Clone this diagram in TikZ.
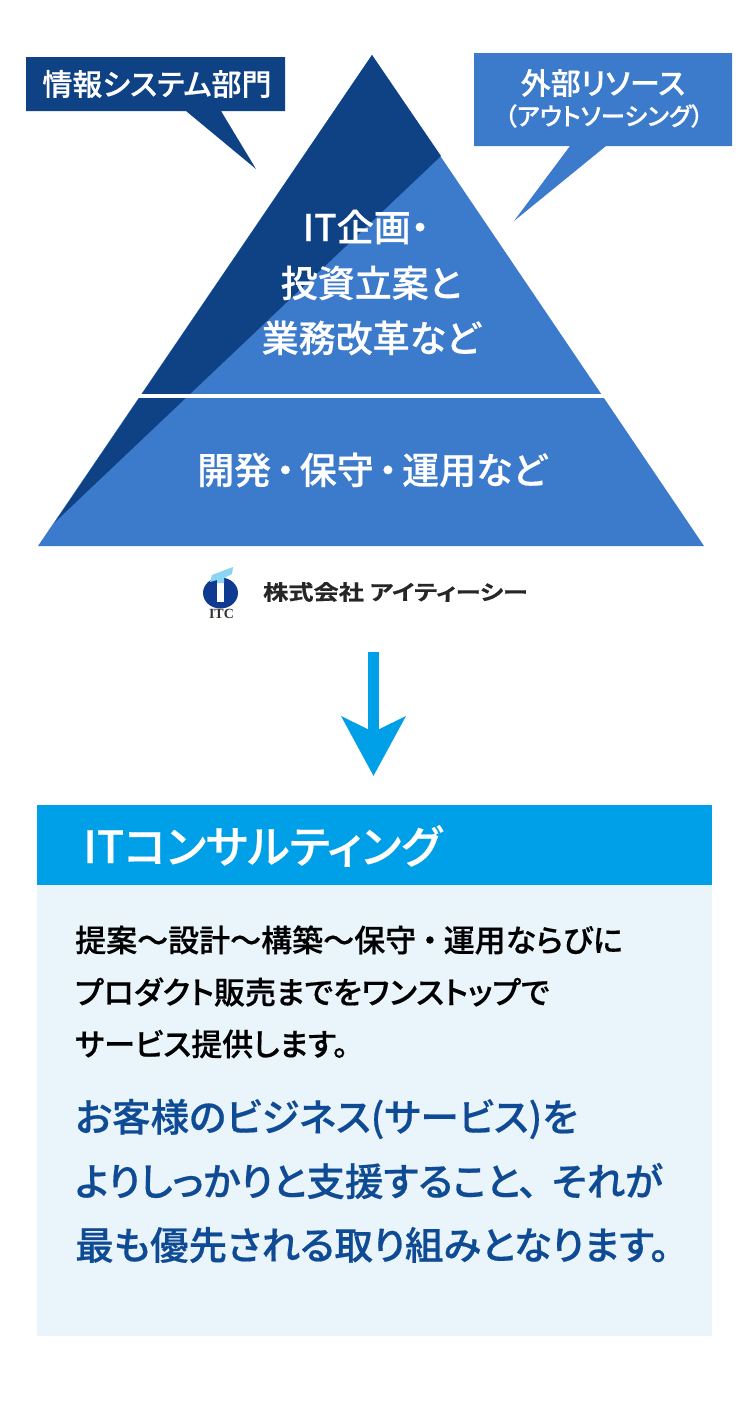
\documentclass[tikz,border=0pt]{standalone}
\usepackage{fontspec}
\usepackage{xcolor}
\usetikzlibrary{arrows.meta,positioning}
\setmainfont{Noto Sans CJK JP Medium}[RawFeature=+palt, FakeBold=0.5, BoldFont={Noto Sans CJK JP Bold}]
\newfontfamily\logoserif{Liberation Serif}
\definecolor{darkblue}{HTML}{0F4284}
\definecolor{leadblue}{HTML}{0F4A94}
\definecolor{midblue}{HTML}{3C7ACB}
\definecolor{skyblue}{HTML}{00A0E9}
\definecolor{paleblue}{HTML}{E9F4FB}
\newcommand{\fs}[1]{\fontsize{#1}{#1}\selectfont}
\newcommand{\dotgap}[1]{\hspace{#1}・\hspace{#1}}

\begin{document}
\begin{tikzpicture}[x=1pt, y=-1pt,
    every node/.style={inner sep=0pt},
    pyramidtext/.style={text=white, align=center, font=\fs{37}},
    calltext/.style={text=white, align=center},
    bodytext/.style={right, font=\fs{31}},
    leadtext/.style={right, text=leadblue, font=\fs{38.5}}]
    \useasboundingbox (0, 0) rectangle (750, 1408);

    % Pyramid
    \fill[midblue] (372, 55) -- (704, 546) -- (38, 546) -- cycle;
    \fill[darkblue] (372, 55) -- (441, 156) -- (55, 522) -- cycle;
    \fill[white] (130, 394) rectangle (620, 398);
    \node[pyramidtext] (upper1) at (366, 227) {IT企画・};
    \node[pyramidtext] (upper2) at (371, 283) {投資立案と};
    \node[pyramidtext] (upper3) at (371, 338) {業務改革など};
    \node[pyramidtext] (lower) at (372, 470) {開発\dotgap{5pt}保守\dotgap{5pt}運用など};

    % Callouts
    \fill[darkblue] (26, 57) -- (285, 57) -- (285, 111) -- (221, 111) -- (256, 169)
        -- (186, 111) -- (26, 111) -- cycle;
    \node[calltext, font=\fs{30}] (inhouse) at (157, 84) {情報システム部門};
    \fill[midblue] (474, 53) -- (732, 53) -- (732, 146) -- (606, 146) -- (514, 221)
        -- (570, 146) -- (474, 146) -- cycle;
    \node[calltext, font=\fs{30}] (outside) at (603, 83) {外部リソース};
    \node[calltext, font=\fs{24.5}] (outsource) at (604, 116) {（アウトソーシング）};

    % Logo
    \fill[darkblue!90!blue] (220.5, 593) ellipse (17.5 and 15.5);
    \fill[white] (217, 578) rectangle (224, 602);
    \fill[skyblue!45] (210, 582) -- (212, 575) -- (233, 567) -- (232, 574) -- (224, 578) -- (224, 583) -- (217, 583) -- (217, 580) -- cycle;
    \node[font={\logoserif\bfseries\fs{14}}, text=black!80] (logomark) at (221.5, 614) {ITC};
    \node[right, font=\bfseries\fs{21}, text=black!85] (logoname) at (263, 592) {\scalebox{1.2}[1]{株式会社 アイティーシー}};

    % Arrow
    \coordinate (arrowtop) at (373.5, 652);
    \coordinate (arrowtip) at (373.5, 776);
    \draw[skyblue, line width=11pt, -{Stealth[length=59pt, width=63pt, inset=15pt]}] (arrowtop) -- (arrowtip);

    % Box
    \fill[paleblue] (37, 885) rectangle (712, 1336);
    \fill[skyblue] (37, 805) rectangle (712, 885);
    \node[right, text=white, font=\fs{44.5}] (heading) at (83, 846) {ITコンサルティング};

    % Body lines
    \node[bodytext] (body1) at (75, 940) {提案～設計～構築～保守\dotgap{6pt}運用ならびに};
    \node[bodytext] (body2) at (75, 992) {プロダクト販売までをワンストップで};
    \node[bodytext] (body3) at (75, 1044) {サービス提供します。};
    \node[leadtext] (lead1) at (75, 1119) {お客様のビジネス(サービス)を};
    \node[leadtext] (lead2) at (75, 1181) {よりしっかりと支援すること、\hspace{14pt}それが};
    \node[leadtext] (lead3) at (75, 1245) {最も優先される取り組みとなります。};
\end{tikzpicture}
\end{document}
